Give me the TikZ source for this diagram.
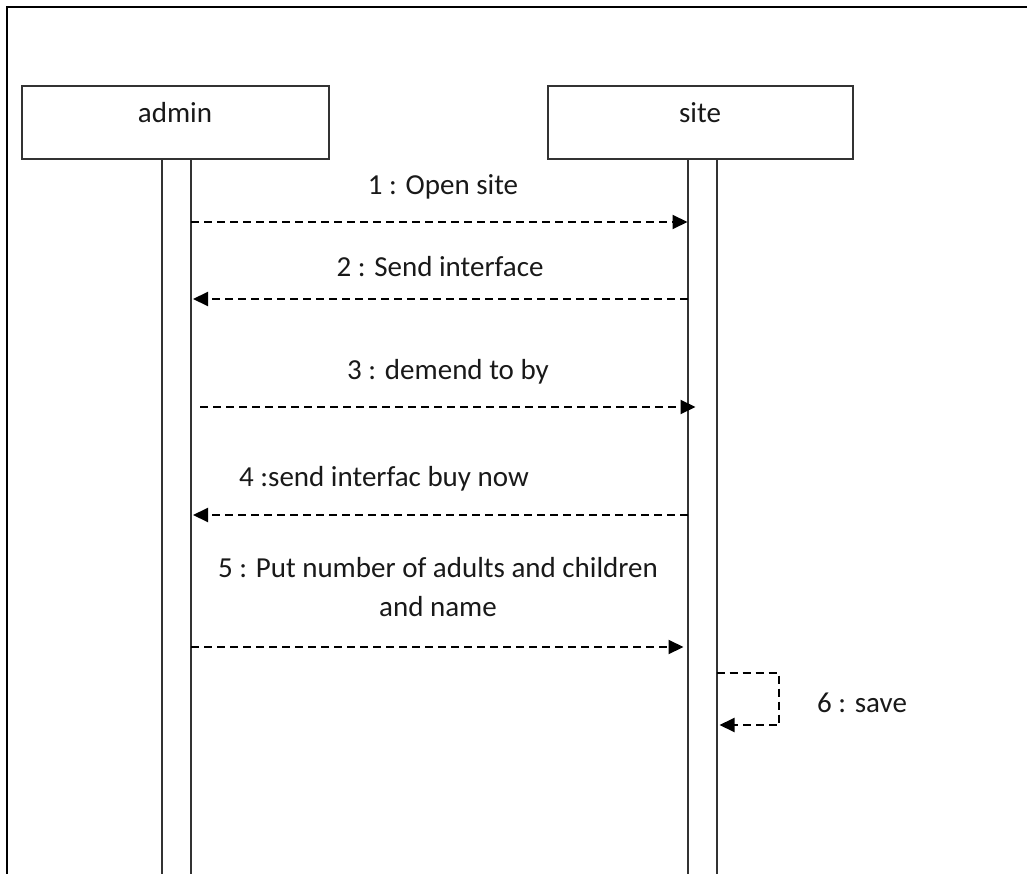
\documentclass[tikz,border=0pt]{standalone}
\usepackage{fontspec}
\setmainfont{Carlito}
\usetikzlibrary{arrows.meta}
\begin{document}
\begin{tikzpicture}[x=1pt,y=-1pt,
  every node/.style={inner sep=0pt,outer sep=0pt},
  headbox/.style={draw=black!80,line width=2pt,fill=white,minimum width=#1,minimum height=73pt},
  actbar/.style={draw=black!80,line width=2pt,fill=white,minimum width=29pt,minimum height=730pt,anchor=north},
  lbl/.style={font=\fontsize{29}{39}\selectfont,text=black!90,anchor=base,align=center},
  msg/.style={draw=black,line width=2pt,dash pattern=on 8pt off 5pt,-{Triangle[length=15pt,width=14pt]}}]
\useasboundingbox (0,0) rectangle (1027,874);
% frame
\draw[line width=2.8pt] (7,900) -- (7,7) -- (1040,7);
% lifeline heads
\node[headbox=307pt] (admin) at (175.5,122.5) {};
\node[headbox=305pt] (site) at (700.5,122.5) {};
\node[lbl] (adminlbl) at (175,123) {admin};
\node[lbl] (sitelbl) at (700,123) {site};
% activation bars
\node[actbar] (abar) at (176.5,159) {};
\node[actbar] (sbar) at (702,159) {};
% messages
\draw[msg] (abar.east |- 0,222) -- (sbar.west |- 0,222);
\node[lbl] (m1) at (443,195) {1 : Open site};
\draw[msg] (sbar.west |- 0,299) -- ([xshift=2pt]abar.east |- 0,299);
\node[lbl] (m2) at (440,277) {2 : Send interface};
\draw[msg] ([xshift=9pt]abar.east |- 0,407) -- ([xshift=8pt]sbar.west |- 0,407);
\node[lbl] (m3) at (448,379) {3 : demend to by};
\draw[msg] (sbar.west |- 0,515) -- ([xshift=2pt]abar.east |- 0,515);
\node[lbl] (m4) at (384,486) {4 :send interfac buy now};
\draw[msg] (abar.east |- 0,647) -- ([xshift=-4pt]sbar.west |- 0,647);
\node[lbl] (m5) at (438,616) {5 : Put number of adults and children\\and name};
% self message
\coordinate (s1) at (779,673);
\coordinate (s2) at (779,725);
\draw[msg] (sbar.east |- s1) -- (s1) -- (s2) -- ([xshift=3pt]sbar.east |- s2);
\node[lbl] (m6) at (862,712) {6 : save};
\end{tikzpicture}
\end{document}
